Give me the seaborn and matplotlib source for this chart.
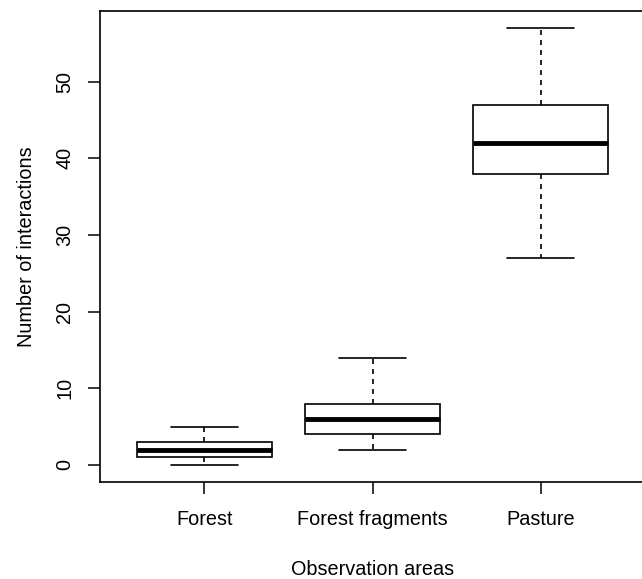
import pandas as pd
import seaborn as sns
import matplotlib.pyplot as plt

# five-number summaries (min, q1, median, q3, max)
areas = ["Forest", "Forest fragments", "Pasture"]
forest = [0, 1, 2, 3, 5]
fragments = [2, 4, 6, 8, 14]
pasture = [27, 38, 42, 47, 57]

data = pd.DataFrame({
    "area": [areas[0]] * len(forest) + [areas[1]] * len(fragments) + [areas[2]] * len(pasture),
    "interactions": forest + fragments + pasture,
})

sns.set_style("white")
plt.rcParams["font.family"] = ["Liberation Sans", "DejaVu Sans"]
plt.rcParams["text.color"] = "black"
plt.rcParams["axes.labelcolor"] = "black"
plt.rcParams["xtick.color"] = "black"
plt.rcParams["ytick.color"] = "black"

fig = plt.figure(figsize=(6.42, 5.79), dpi=100)
# R-style plot region; right edge falls just outside the picture
ax = fig.add_axes([0.1558, 0.167, 0.849, 0.8145])

sns.boxplot(data=data, x="area", y="interactions", order=areas, ax=ax,
            width=0.8, whis=1.5, color="white", linecolor="black", linewidth=1.2,
            showfliers=False,
            whiskerprops={"linestyle": (0, (3, 3))},
            medianprops={"linewidth": 3.5, "color": "black"})

ax.set_xlim(-0.62, 2.62)
ax.set_ylim(-2.28, 59.28)
ax.set_yticks([0, 10, 20, 30, 40, 50])
ax.set_yticklabels(["0", "10", "20", "30", "40", "50"], rotation=90, va="center")
ax.tick_params(axis="both", direction="out", length=8.6, width=1.1,
               labelsize=14.3, pad=10, left=True, bottom=True)
ax.tick_params(axis="x", pad=11.5)
for s in ax.spines.values():
    s.set_color("black")
    s.set_linewidth(1.2)
ax.set_xlabel("Observation areas", fontsize=14.3, labelpad=22)
ax.set_ylabel("Number of interactions", fontsize=14.3, labelpad=14)

fig.savefig("out.png", dpi=100)
